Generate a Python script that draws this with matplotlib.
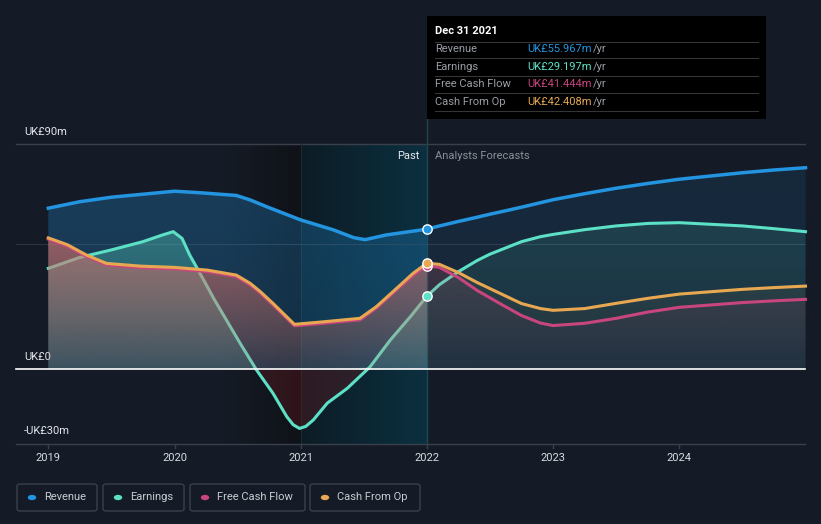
import numpy as np
import matplotlib
matplotlib.use("Agg")
import matplotlib.pyplot as plt
from matplotlib.patches import Rectangle, FancyBboxPatch, Circle
from matplotlib.colors import to_rgb

plt.rcParams['font.family'] = ['Roboto', 'DejaVu Sans']

# ---- data (UK£m) ----
rev_x = [2019.0, 2019.25, 2019.5, 2019.73, 2020.0, 2020.2, 2020.49, 2020.6, 2020.73, 2021.0,
         2021.26, 2021.42, 2021.51, 2021.68, 2022.0]
revenue = [64.4, 67.0, 68.8, 69.9, 71.2, 70.6, 69.5, 67.7, 65.0, 59.7,
           55.7, 52.6, 51.8, 53.7, 56.0]

earn_x = [2019.0, 2019.25, 2019.5, 2019.75, 2019.9, 2019.99, 2020.06, 2020.12, 2020.18, 2020.26,
          2020.31, 2020.52, 2020.65, 2020.78, 2020.89, 2020.94, 2020.99, 2021.04, 2021.1, 2021.21,
          2021.37, 2021.55, 2021.71, 2021.87, 2022.0]
earnings = [40.3, 44.7, 47.7, 51.0, 53.6, 55.0, 52.3, 45.7, 40.3, 33.0,
            28.3, 10.3, -0.4, -9.7, -19.1, -22.3, -23.8, -23.0, -20.4, -13.7,
            -7.7, 0.9, 11.6, 21.0, 29.2]

cf_x = [2019.0, 2019.15, 2019.3, 2019.46, 2019.73, 2020.0, 2020.26, 2020.49, 2020.6, 2020.68,
        2020.78, 2020.95, 2021.18, 2021.47, 2021.6, 2021.76, 2021.89, 2022.0]
cash_from_op = [52.5, 49.8, 45.7, 42.3, 41.2, 40.7, 39.6, 37.6, 34.3, 31.0,
                26.3, 17.9, 18.9, 20.3, 25.0, 32.3, 38.3, 42.4]
free_cash_flow = [52.0, 49.2, 45.1, 41.7, 40.6, 40.1, 39.0, 37.0, 33.7, 30.4,
                  25.7, 17.3, 18.3, 19.7, 24.4, 31.7, 37.5, 41.4]

fc_x = [2022.0, 2022.1, 2022.25, 2022.4, 2022.5, 2022.6, 2022.75, 2022.9, 2023.0, 2023.25,
        2023.5, 2023.75, 2024.0, 2024.5, 2024.75, 2025.0]
revenue_fc = [56.0, 57.3, 59.1, 60.8, 62.0, 63.1, 64.8, 66.6, 67.8, 70.2,
              72.4, 74.3, 76.0, 78.6, 79.7, 80.6]
earnings_fc = [29.2, 33.8, 39.0, 43.5, 46.0, 48.0, 51.0, 53.0, 53.9, 55.8,
               57.3, 58.3, 58.6, 57.3, 56.2, 55.0]
cash_from_op_fc = [42.4, 41.9, 38.6, 34.6, 32.2, 29.8, 26.2, 24.2, 23.5, 24.2,
                   26.3, 28.3, 30.0, 31.9, 32.6, 33.2]
free_cash_flow_fc = [41.4, 40.7, 36.6, 31.4, 28.5, 25.6, 21.4, 18.4, 17.4, 18.3,
                     20.3, 22.8, 24.7, 26.6, 27.3, 27.9]

years = [2019, 2020, 2021, 2022, 2023, 2024]
y_ticks = [90, 0, -30]
y_tick_labels = ["UK£90m", "UK£0", "-UK£30m"]

tooltip_date = "Dec 31 2021"
tooltip_rows = ["Revenue", "Earnings", "Free Cash Flow", "Cash From Op"]
tooltip_vals = ["UK£55.967m", "UK£29.197m", "UK£41.444m", "UK£42.408m"]

# ---- style ----
BG = '#151b26'
C_REV = '#2394df'
C_EARN = '#5ce0c6'
C_FCF = '#c8457e'
C_CFO = '#e8a852'
W, H = 821, 524

fig = plt.figure(figsize=(W / 100, H / 100), dpi=100, facecolor=BG)
ax = fig.add_axes([0, 0, 1, 1])
ax.set_facecolor(BG)
ax.axis('off')

# pixel mapping: 2019 -> x 48.3, 126.2 px / year ; 0 -> y 369, 2.497 px / m
X0, XS = 48.3, 126.2
Y0, YS = 369.0, 2.497
xlim = (2019 - X0 / XS, 2019 + (W - X0) / XS)
ylim = ((Y0 - H) / YS, Y0 / YS)


def px_x(p):
    return 2019 + (p - X0) / XS


def fx(p):
    return p / W


def fy(p):
    return 1 - p / H


def gradient_fill(x, y, color, a_top, a_bot, z):
    x = np.asarray(x)
    y = np.asarray(y)
    poly = ax.fill_between(x, y, 0, facecolor='none', edgecolor='none')
    path = poly.get_paths()[0]
    top = max(y.max(), 0.1)
    img = np.zeros((200, 1, 4))
    img[:, 0, :3] = to_rgb(color)
    img[:, 0, 3] = np.linspace(a_top, a_bot, 200)
    im = ax.imshow(img, extent=[x.min(), x.max(), 0, top], origin='upper',
                   aspect='auto', zorder=z, interpolation='bilinear')
    im.set_clip_path(path, transform=ax.transData)
    poly.remove()


def hgradient(x1, x2, c1, c2, z=0.5):
    img = np.zeros((1, 200, 4))
    a = np.array(to_rgb(c1))
    b = np.array(to_rgb(c2))
    t = np.linspace(0, 1, 200)[:, None]
    img[0, :, :3] = a + (b - a) * t
    img[0, :, 3] = 1
    ax.imshow(img, extent=[x1, x2, -30, 90], origin='upper', aspect='auto',
              zorder=z, interpolation='bilinear')


# background bands
hgradient(2020.4, 2021.0, BG, '#0f1217')
hgradient(2021.0, 2022.0, '#0d1c25', '#0b3040')

# grid lines
x_left, x_right = px_x(16), px_x(805)
ax.plot([x_left, x_right], [90, 90], color='#3a404b', lw=1, zorder=1)
ax.plot([x_left, x_right], [50, 50], color='#2c3440', lw=0.8, zorder=1)
ax.plot([x_left, x_right], [-30, -30], color='#3a404b', lw=1, zorder=1)
ax.plot([2021, 2021], [-30, 90], color='#1c2a34', lw=0.8, zorder=1)

# fills
gradient_fill(rev_x, revenue, C_REV, 0.28, 0.22, 2)
gradient_fill(fc_x, revenue_fc, C_REV, 0.12, 0.10, 2)
earn_pos = np.clip(earnings, 0, None)
gradient_fill(earn_x, earn_pos, C_EARN, 0.34, 0.14, 3)
gradient_fill(fc_x, earnings_fc, C_EARN, 0.13, 0.05, 3)
ax.fill_between(earn_x, np.clip(earnings, None, 0), 0, color='#6a1a20', alpha=0.35,
                lw=0, zorder=3)

ax.plot(earn_x, earnings, color=C_EARN, lw=2.2, zorder=4, solid_joinstyle='round')
ax.plot(fc_x, earnings_fc, color=C_EARN, lw=2.2, zorder=4, solid_joinstyle='round')

gradient_fill(cf_x, cash_from_op, C_CFO, 0.44, 0.08, 5)
gradient_fill(cf_x, free_cash_flow, C_FCF, 0.36, 0.08, 5)
gradient_fill(fc_x, cash_from_op_fc, C_CFO, 0.08, 0.02, 5)
gradient_fill(fc_x, free_cash_flow_fc, C_FCF, 0.14, 0.03, 5)

# zero line
ax.plot([x_left, x_right], [0, 0], color='#ffffff', lw=1.2, zorder=6)

ax.plot(cf_x, free_cash_flow, color=C_FCF, lw=2.2, zorder=7, solid_joinstyle='round')
ax.plot(fc_x, free_cash_flow_fc, color=C_FCF, lw=2.2, zorder=7, solid_joinstyle='round')
ax.plot(cf_x, cash_from_op, color=C_CFO, lw=2.2, zorder=8, solid_joinstyle='round')
ax.plot(fc_x, cash_from_op_fc, color=C_CFO, lw=2.2, zorder=8, solid_joinstyle='round')
ax.plot(rev_x, revenue, color=C_REV, lw=2.5, zorder=9, solid_joinstyle='round')
ax.plot(fc_x, revenue_fc, color=C_REV, lw=2.5, zorder=9, solid_joinstyle='round')

# vertical marker line at the tooltip date
ax.plot([2022, 2022], [-30, (Y0 - 119) / YS], color='#1f4550', lw=1, zorder=1.5)

for val, col in [(free_cash_flow[-1], C_FCF), (cash_from_op[-1], C_CFO),
                 (earnings[-1], C_EARN), (revenue[-1], C_REV)]:
    ax.scatter([2022], [val], s=45, color=col, edgecolor='white', lw=1, zorder=10)

# x ticks
for yr in years:
    ax.plot([yr, yr], [-30, -31.8], color='#3a404b', lw=1, zorder=1)
    ax.text(yr, (Y0 - 458) / YS, str(yr), color='#d8dbe0', fontsize=8,
            ha='center', va='center')

# y labels
for v, lab in zip(y_ticks, y_tick_labels):
    ax.text(px_x(24), v + 12.5 / YS, lab, color='#e2e5ea', fontsize=8,
            ha='left', va='center')

ax.set_xlim(*xlim)
ax.set_ylim(*ylim)

fig.text(fx(419), fy(156), "Past", color='#e8eaee', fontsize=8, ha='right', va='center')
fig.text(fx(435), fy(156), "Analysts Forecasts", color='#8a8f98', fontsize=8,
         ha='left', va='center')

# tooltip
fig.patches.append(Rectangle((fx(427), fy(119)), (766 - 427) / W, (119 - 16) / H,
                             transform=fig.transFigure, facecolor='#000000',
                             edgecolor='none', zorder=20))
fig.text(fx(435), fy(31), tooltip_date, color='#ffffff', fontsize=8,
         fontweight='bold', ha='left', va='center', zorder=21)
for sy in [41.7, 58.3, 76, 93.3, 111]:
    fig.lines.append(plt.Line2D([fx(435), fx(758)], [fy(sy), fy(sy)],
                                transform=fig.transFigure, color='#353535', lw=0.8,
                                zorder=21))
row_cols = [C_REV, C_EARN, C_FCF, C_CFO]
for i, (lab, val, col) in enumerate(zip(tooltip_rows, tooltip_vals, row_cols)):
    yy = fy(49.5 + i * 17.4)
    fig.text(fx(435), yy, lab, color='#9a9ea6', fontsize=8, ha='left', va='center', zorder=21)
    fig.text(fx(527), yy, val, color=col, fontsize=8, ha='left', va='center', zorder=21)
    fig.text(fx(593), yy, "/yr", color='#9a9ea6', fontsize=8, ha='left', va='center', zorder=21)

# legend
legend_boxes = [(17, 97), (103, 184), (190, 305), (310, 420)]
for (x1, x2), lab, col in zip(legend_boxes, tooltip_rows, row_cols):
    fig.patches.append(FancyBboxPatch((fx(x1), fy(511)), (x2 - x1) / W, 27 / H,
                                      boxstyle="round,pad=0,rounding_size=0.004",
                                      transform=fig.transFigure, facecolor=BG,
                                      edgecolor='#3b404b', lw=1))
    fig.patches.append(Circle((fx(x1 + 15), fy(497.5)), 4.2 / W,
                              transform=fig.transFigure, facecolor=col,
                              edgecolor='none'))
    fig.text(fx(x1 + 27), fy(497.5), lab, color='#c8ccd2', fontsize=8,
             ha='left', va='center')

fig.savefig("out.png", dpi=100, facecolor=BG)
